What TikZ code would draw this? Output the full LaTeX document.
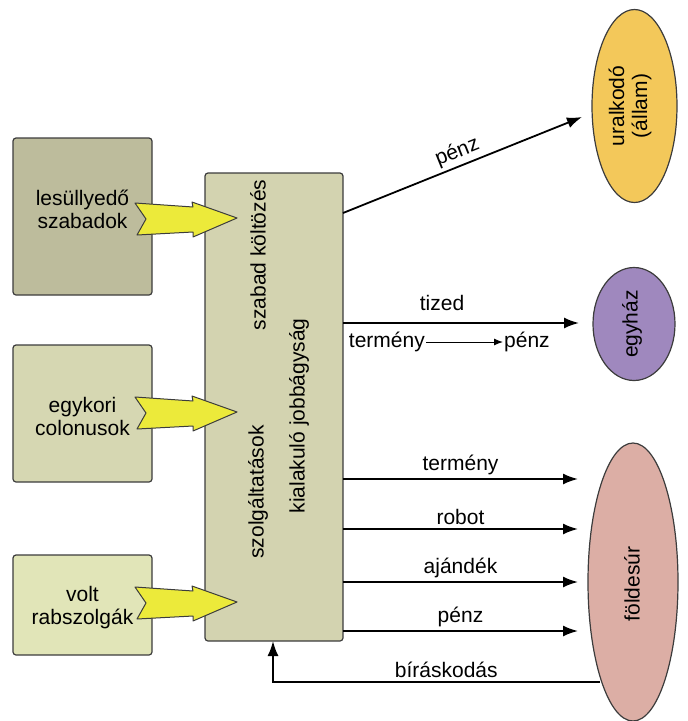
\documentclass[tikz,border=0pt]{standalone}
\usepackage{fontspec}
\setmainfont{Liberation Sans}
\usetikzlibrary{arrows.meta,shapes.geometric}
\definecolor{boxA}{HTML}{BDBC9C}
\definecolor{boxB}{HTML}{D6D7B2}
\definecolor{boxC}{HTML}{E1E5B8}
\definecolor{boxM}{HTML}{D3D3B0}
\definecolor{yel}{HTML}{ECEA3A}
\definecolor{gold}{HTML}{F3C85A}
\definecolor{purp}{HTML}{9F88BE}
\definecolor{pink}{HTML}{DCAEA5}
\definecolor{edge}{HTML}{3C3C3C}
\tikzset{
  txt/.style={font=\fontsize{21}{23}\selectfont},
  srcbox/.style={draw=edge, line width=1.2pt, rounded corners=3pt, minimum width=139pt, inner sep=0pt, align=center, txt},
  midbox/.style={draw=edge, line width=1.2pt, rounded corners=3pt, fill=boxM, minimum width=138pt, minimum height=468pt, inner sep=0pt},
  ell/.style={ellipse, draw=edge, line width=1.2pt, inner sep=0pt, align=center, txt},
  flow/.style={line width=1.8pt, -{Latex[length=15pt,width=11pt]}},
  yarrowstyle/.style={draw=edge, line width=1pt, fill=yel, line join=round},
  lbl/.style={txt, inner sep=1pt},
  yarrow/.pic={\path[yarrowstyle] (0,-15) -- (58,-11) -- (57,-16) -- (102,0) -- (58,19) -- (58,14) -- (2,17) -- (11,1) -- cycle;}
}
\begin{document}
\begin{tikzpicture}[x=1pt,y=-1pt]
\useasboundingbox (0,0) rectangle (688,721);
% source boxes
\node[srcbox, fill=boxA, minimum height=157pt] (b1) at (82.5,216.5) {};
\node[txt, align=center] (t1) at (82.5,209) {lesüllyedő\\szabadok};
\node[srcbox, fill=boxB, minimum height=137pt] (b2) at (82.5,413.5) {};
\node[txt, align=center] (t2) at (82.5,416) {egykori\\colonusok};
\node[srcbox, fill=boxC, minimum height=100pt] (b3) at (82.5,605) {};
\node[txt, align=center] (t3) at (82.5,608) {volt\\rabszolgák};
% middle box
\node[midbox] (m) at (274,407) {};
\node[txt, rotate=90] (m1) at (258,255) {szabad költözés};
\node[txt, rotate=90] (m2) at (299,416) {kialakuló jobbágyság};
\node[txt, rotate=90] (m3) at (258,492) {szolgáltatások};
% yellow arrows
\pic at (135,218) {yarrow};
\pic at (135,412) {yarrow};
\pic at (135,602) {yarrow};
% ellipses
\node[ell, fill=gold, minimum width=85pt, minimum height=193pt] (u) at (634.5,106) {};
\node[txt, rotate=90, align=center] (ut) at (630,106) {uralkodó\\(állam)};
\node[ell, fill=purp, minimum width=82pt, minimum height=113pt] (e) at (634,324) {};
\node[txt, rotate=90] (et) at (632,324) {egyház};
\node[ell, fill=pink, minimum width=90pt, minimum height=278pt] (f) at (633,582) {};
\node[txt, rotate=90] (ft) at (632,584) {földesúr};
% coordinates
\coordinate (s0) at (343,213);
\coordinate (e0) at (582,117);
\coordinate (s1) at (343,323);
\coordinate (e1) at (579,323);
\coordinate (s2) at (343,479);
\coordinate (e2) at (578,479);
\coordinate (s3) at (343,529);
\coordinate (e3) at (578,529);
\coordinate (s4) at (343,582);
\coordinate (e4) at (578,582);
\coordinate (s5) at (343,631);
\coordinate (e5) at (578,631);
\coordinate (bs) at (600,682);
\coordinate (bc) at (273,682);
\coordinate (bt) at (273,641);
% flows
\draw[flow] (s0) -- node[lbl, sloped, above=2pt, pos=0.5] (lp) {pénz} (e0);
\draw[flow] (s1) -- (e1);
\node[lbl] (ltized) at (442,303) {tized};
\node[lbl, anchor=east] (lterm) at (426,342) {termény};
\node[lbl, anchor=west] (lpenz) at (503,342) {pénz};
\draw[line width=1pt, -{Latex[length=9pt,width=7pt]}] (lterm.east) -- (lpenz.west);
\draw[flow] (s2) -- node[lbl, above=2pt] (l2) {termény} (e2);
\draw[flow] (s3) -- node[lbl, above=2pt] (l3) {robot} (e3);
\draw[flow] (s4) -- node[lbl, above=2pt] (l4) {ajándék} (e4);
\draw[flow] (s5) -- node[lbl, above=2pt] (l5) {pénz} (e5);
\draw[flow] (bs) -- node[lbl, above=2pt, pos=0.47] (l6) {bíráskodás} (bc) -- (bt);
\end{tikzpicture}
\end{document}
